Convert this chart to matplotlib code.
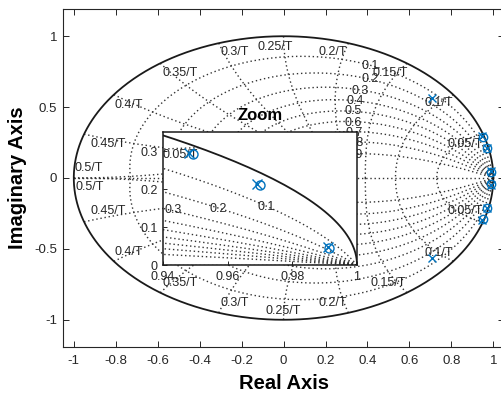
import numpy as np
import matplotlib.pyplot as plt

plt.rcParams['font.family'] = ['Liberation Sans', 'DejaVu Sans']
plt.rcParams['axes.unicode_minus'] = False

# zeros (o) and poles (x), upper half; conjugates are added when plotting
zero_re = [0.9494, 0.9700, 0.9913]
zero_im = [0.2913, 0.2105, 0.0447]
pole_re = [0.9481, 0.9692, 0.9909, 0.7095]
pole_im = [0.2939, 0.2132, 0.0482, 0.562]

# zgrid settings
zetas = [0.1, 0.2, 0.3, 0.4, 0.5, 0.6, 0.7, 0.8, 0.9]
freqs = [0.05, 0.1, 0.15, 0.2, 0.25, 0.3, 0.35, 0.4, 0.45, 0.5]

wn_labels = ['0.05/T', '0.1/T', '0.15/T', '0.2/T', '0.25/T',
             '0.3/T', '0.35/T', '0.4/T', '0.45/T', '0.5/T']
wn_up_x = [0.864, 0.738, 0.51, 0.233, -0.04, -0.234, -0.495, -0.738, -0.836, -0.93]
wn_up_y = [0.243, 0.528, 0.739, 0.89, 0.925, 0.89, 0.739, 0.517, 0.237, 0.072]
wn_lo_x = [0.864, 0.738, 0.50, 0.233, 0.0, -0.233, -0.495, -0.738, -0.836, -0.924]
wn_lo_y = [-0.232, -0.528, -0.74, -0.88, -0.935, -0.88, -0.74, -0.52, -0.232, -0.063]

zeta_labels = ['0.1', '0.2', '0.3', '0.4', '0.5', '0.6', '0.7', '0.8', '0.9']
zeta_lab_x = [0.413, 0.413, 0.365, 0.341, 0.333, 0.333, 0.339, 0.339, 0.339]
zeta_lab_y = [0.789, 0.695, 0.617, 0.542, 0.471, 0.39, 0.319, 0.248, 0.159]

# labels visible inside the zoom box
zoom_labels = ['0.05/T', '0.3', '0.2', '0.1']
zoom_lab_x = [0.9453, 0.943, 0.9571, 0.9718]
zoom_lab_y = [0.2895, 0.1447, 0.147, 0.153]

blue = '#0072BD'
gridc = '#333333'
txtc = '#262626'


def draw_zgrid(ax):
    th = np.linspace(0, np.pi, 600)
    for z in zetas:
        r = np.exp(-z * th / np.sqrt(1 - z ** 2))
        for s in (1, -1):
            ax.plot(r * np.cos(th), s * r * np.sin(th), color=gridc,
                    lw=1.0, ls=(0, (1, 2)), zorder=1)
    zz = np.linspace(0, 1, 600)
    for f in freqs:
        w = 2 * np.pi * f
        p = np.exp(w * (-zz + 1j * np.sqrt(1 - zz ** 2)))
        for s in (1, -1):
            ax.plot(p.real, s * p.imag, color=gridc, lw=1.0,
                    ls=(0, (1, 2)), zorder=1)
    ax.plot([-1, 1], [0, 0], color=gridc, lw=1.0, ls=(0, (1, 2)), zorder=1)
    t = np.linspace(0, 2 * np.pi, 800)
    ax.plot(np.cos(t), np.sin(t), color='#1a1a1a', lw=1.3, zorder=2)


def draw_roots(ax, ms):
    zr = zero_re + zero_re
    zi = zero_im + [-v for v in zero_im]
    pr = pole_re + pole_re
    pi_ = pole_im + [-v for v in pole_im]
    ax.plot(zr, zi, 'o', mfc='none', mec=blue, ms=ms, mew=1.0, zorder=4)
    ax.plot(pr, pi_, 'x', color=blue, ms=ms, mew=1.0, zorder=4)


fig = plt.figure(figsize=(5.02, 3.98), dpi=100)
ax = fig.add_axes([63.3 / 502, (398 - 346.7) / 398, (503.8 - 63.3) / 502, 337.4 / 398])
draw_zgrid(ax)
draw_roots(ax, 6)

for i in range(len(wn_labels)):
    ax.text(wn_up_x[i], wn_up_y[i], wn_labels[i], fontsize=9, color=txtc,
            ha='center', va='center', zorder=3)
    ax.text(wn_lo_x[i], wn_lo_y[i], wn_labels[i], fontsize=9, color=txtc,
            ha='center', va='center', zorder=3)
for i in range(len(zeta_labels)):
    ax.text(zeta_lab_x[i], zeta_lab_y[i], zeta_labels[i], fontsize=9,
            color=txtc, ha='center', va='center', zorder=3)

ax.set_xlim(-1.05, 1.05)
ax.set_ylim(-1.19, 1.19)
xt = [-1, -0.8, -0.6, -0.4, -0.2, 0, 0.2, 0.4, 0.6, 0.8, 1]
ax.set_xticks(xt)
ax.set_xticklabels(['%g' % v for v in xt])
yt = [-1, -0.5, 0, 0.5, 1]
ax.set_yticks(yt)
ax.set_yticklabels(['%g' % v for v in yt])
ax.tick_params(direction='in', length=4, width=0.7, colors=txtc,
               labelsize=9.5, top=True, right=True)
ax.tick_params(axis='x', pad=6)
ax.tick_params(axis='y', pad=4.5)
for sp in ax.spines.values():
    sp.set_color(txtc)
    sp.set_linewidth(0.8)
ax.set_xlabel('Real Axis', fontsize=14.5, fontweight='bold', color='black',
              labelpad=5)
ax.set_ylabel('Imaginary Axis', fontsize=14.5, fontweight='bold', color='black',
              labelpad=5)

# zoom inset
axz = fig.add_axes([163 / 502, (398 - 265) / 398, 194 / 502, 133 / 398])
axz.set_facecolor('white')
draw_zgrid(axz)
draw_roots(axz, 6.5)
for i in range(len(zoom_labels)):
    axz.text(zoom_lab_x[i], zoom_lab_y[i], zoom_labels[i], fontsize=9,
             color=txtc, ha='center', va='center', zorder=3)
axz.set_xlim(0.94, 1.0)
axz.set_ylim(0, 0.35)
zxt = [0.94, 0.96, 0.98, 1]
axz.set_xticks(zxt)
axz.set_xticklabels(['%g' % v for v in zxt])
zyt = [0, 0.1, 0.2, 0.3]
axz.set_yticks(zyt)
axz.set_yticklabels(['%g' % v for v in zyt])
axz.tick_params(direction='in', length=3, width=0.7, colors=txtc,
                labelsize=9, pad=4)
for sp in axz.spines.values():
    sp.set_color('#1a1a1a')
    sp.set_linewidth(1.1)
axz.set_title('Zoom', fontsize=12, fontweight='bold', pad=9)

fig.savefig('out.png', dpi=100)
